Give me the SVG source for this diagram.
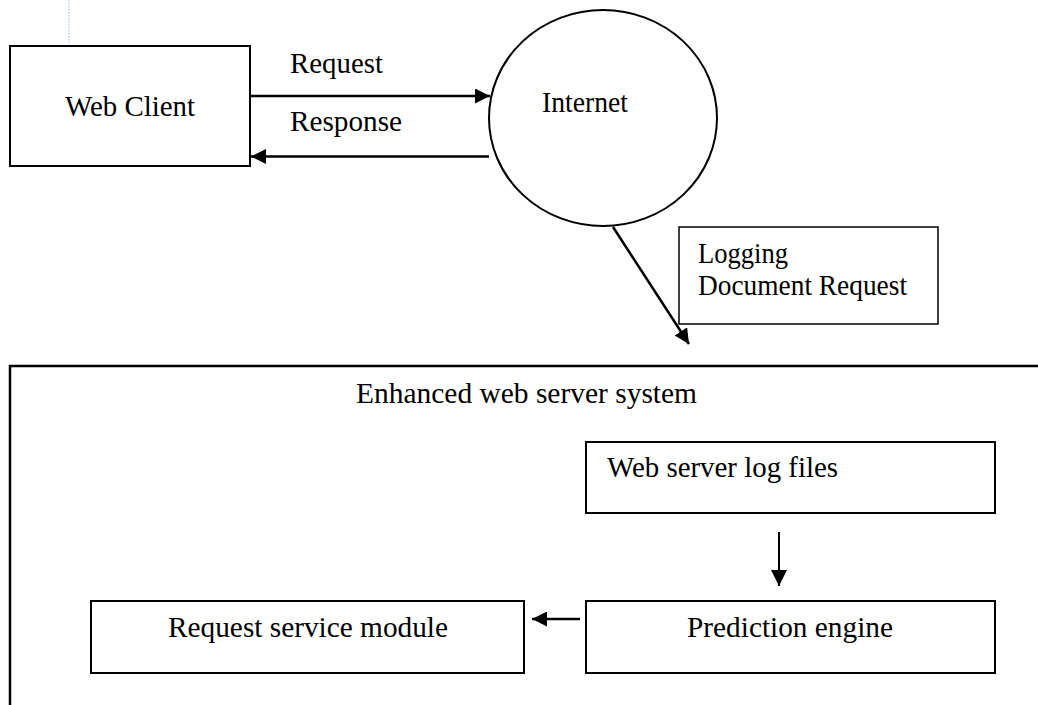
<svg xmlns="http://www.w3.org/2000/svg" width="1038" height="705" viewBox="0 0 1038 705">
<style>
.t{font-family:"Liberation Serif","Times New Roman",serif;font-size:29px;fill:#000}
.b{fill:#fff;stroke:#000;stroke-width:2}
.c{fill:none;stroke:#000;stroke-width:2.5}
</style>
<defs>
<marker id="ah" viewBox="0 0 10 10" refX="10" refY="5" markerWidth="6" markerHeight="6" markerUnits="strokeWidth" orient="auto">
<path d="M0,0 L10,5 L0,10 z" fill="#000"/>
</marker>
<marker id="ah2" viewBox="0 0 10 10" refX="10" refY="5" markerWidth="9" markerHeight="8" markerUnits="strokeWidth" orient="auto">
<path d="M0,0 L10,5 L0,10 z" fill="#000"/>
</marker>
</defs>
<rect width="1038" height="705" fill="#fff"/>
<line x1="69" y1="0" x2="69" y2="43" stroke="#a9c4e8" stroke-width="1.2" stroke-dasharray="1.5,1.5"/>
<g id="system">
<path d="M1040,366 L10,366 L10,707" fill="none" stroke="#000" stroke-width="2.5"/>
<text class="t" x="356" y="403" textLength="341" lengthAdjust="spacingAndGlyphs">Enhanced web server system</text>
</g>
<g id="webclient">
<rect class="b" x="10" y="46" width="240" height="120"/>
<text class="t" x="65" y="116" textLength="130" lengthAdjust="spacingAndGlyphs">Web Client</text>
</g>
<g id="internet">
<ellipse class="b" cx="603" cy="118" rx="114" ry="108"/>
<text class="t" x="542" y="112" textLength="86" lengthAdjust="spacingAndGlyphs">Internet</text>
</g>
<g id="logging">
<rect fill="#fff" stroke="#000" stroke-width="1.5" x="679" y="227" width="259" height="97"/>
<text class="t" x="698" y="263" textLength="90" lengthAdjust="spacingAndGlyphs">Logging</text>
<text class="t" x="698" y="295" textLength="209" lengthAdjust="spacingAndGlyphs">Document Request</text>
</g>
<g id="logfiles">
<rect class="b" x="586" y="442" width="409" height="71"/>
<text class="t" x="607" y="477" textLength="231" lengthAdjust="spacingAndGlyphs">Web server log files</text>
</g>
<g id="prediction">
<rect class="b" x="586" y="601" width="409" height="72"/>
<text class="t" x="687" y="637" textLength="206" lengthAdjust="spacingAndGlyphs">Prediction engine</text>
</g>
<g id="requestservice">
<rect class="b" x="91" y="601" width="433" height="72"/>
<text class="t" x="168" y="637" textLength="280" lengthAdjust="spacingAndGlyphs">Request service module</text>
</g>
<g id="connectors">
<line class="c" x1="250" y1="96" x2="490" y2="96" marker-end="url(#ah)"/>
<text class="t" x="290" y="73" textLength="93" lengthAdjust="spacingAndGlyphs">Request</text>
<line class="c" x1="489" y1="156.5" x2="251" y2="156.5" marker-end="url(#ah)"/>
<text class="t" x="290" y="131" textLength="112" lengthAdjust="spacingAndGlyphs">Response</text>
<line class="c" x1="613" y1="227" x2="689" y2="344" marker-end="url(#ah)"/>
<line x1="779" y1="532" x2="779" y2="586" stroke="#000" stroke-width="2" marker-end="url(#ah2)"/>
<line class="c" x1="580" y1="619" x2="532" y2="619" stroke-width="3" marker-end="url(#ah)"/>
</g>
</svg>
